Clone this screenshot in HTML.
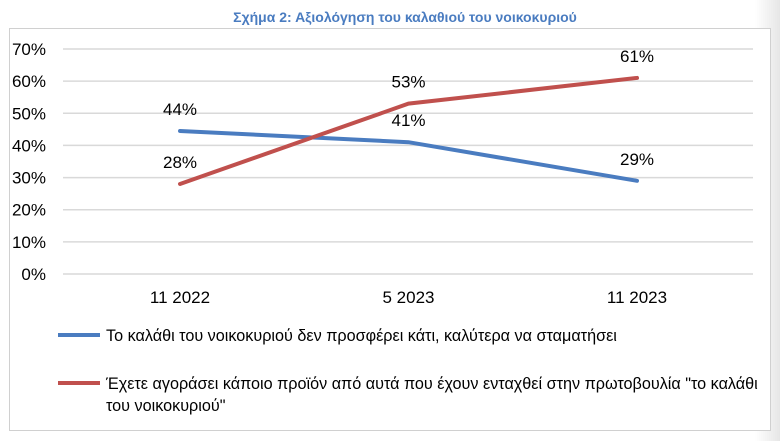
<!DOCTYPE html>
<html><head><meta charset="utf-8"><style>
body{margin:0;background:#fff;width:780px;height:441px;overflow:hidden;font-family:"Liberation Sans",Arial,sans-serif}
</style></head><body>
<svg width="780" height="441" xmlns="http://www.w3.org/2000/svg">
<defs><linearGradient id="sh" x1="0" x2="1"><stop offset="0" stop-color="#fff"/><stop offset="1" stop-color="#e6e6e6"/></linearGradient></defs>
<rect x="755" y="0" width="25" height="441" fill="url(#sh)"/>
<text x="405" y="22" text-anchor="middle" font-size="14" font-weight="bold" fill="#4a7cc0">Σχήμα 2: Αξιολόγηση του καλαθιού του νοικοκυριού</text>
<rect x="9.5" y="28.5" width="761" height="402" fill="#fff" stroke="#d0d0d0"/>
<g id="grid"></g><g id="series"></g><g id="labels"></g>
<line x1="58" y1="335" x2="100" y2="335" stroke="#4a7cc0" stroke-width="4"/>
<text x="106" y="341" font-size="16.2" fill="#000">Το καλάθι του νοικοκυριού δεν προσφέρει κάτι, καλύτερα να σταματήσει</text>
<line x1="58" y1="383" x2="100" y2="383" stroke="#c0504d" stroke-width="4"/>
<text font-size="16.2" fill="#000"><tspan x="106" y="389">Έχετε αγοράσει κάποιο προϊόν από αυτά που έχουν ενταχθεί στην πρωτοβουλία "το καλάθι</tspan><tspan x="106" y="411">του νοικοκυριού"</tspan></text>
</svg>
<script>
const categories=["11 2022","5 2023","11 2023"];
const blueValues=[44.5,41,29];
const redValues=[28,53,61];
const blueLabels=["44%","41%","29%"];
const redLabels=["28%","53%","61%"];
const yTicks=[0,10,20,30,40,50,60,70];
const NS="http://www.w3.org/2000/svg";
const y=v=>274-v*(225/70);
const x=i=>180+i*228.5;
function mk(t,a,p){const e=document.createElementNS(NS,t);for(const k in a)e.setAttribute(k,a[k]);p.appendChild(e);return e;}
const g=document.getElementById('grid'),s=document.getElementById('series'),l=document.getElementById('labels');
yTicks.forEach(v=>{
 const ln=mk('line',{x1:63,x2:753,y1:y(v),y2:y(v),stroke:'#d9d9d9','stroke-width':1.5},g);
 
 
 const t=mk('text',{x:46,y:y(v)+6,'text-anchor':'end','font-size':17},g);t.textContent=v+'%';
 
 
});
categories.forEach((c,i)=>{
 const t=mk('text',{x:x(i),y:303,'text-anchor':'middle','font-size':17},g);t.textContent=c;
 
 
});
function line(vals,col,name){
 const p=mk('polyline',{points:vals.map((v,i)=>x(i)+','+y(v)).join(' '),fill:'none',stroke:col,'stroke-width':4,'stroke-linecap':'round'},s);
 
 
}
line(blueValues,'#4a7cc0','series-blue-line');
line(redValues,'#c0504d','series-red-line');
function labs(vals,txt,name){vals.forEach((v,i)=>{
 const t=mk('text',{x:x(i),y:y(v)-16,'text-anchor':'middle','font-size':17},l);t.textContent=txt[i];
 
 
});}
labs(blueValues,blueLabels,'blue-label');
labs(redValues,redLabels,'red-label');
</script>
</body></html>
